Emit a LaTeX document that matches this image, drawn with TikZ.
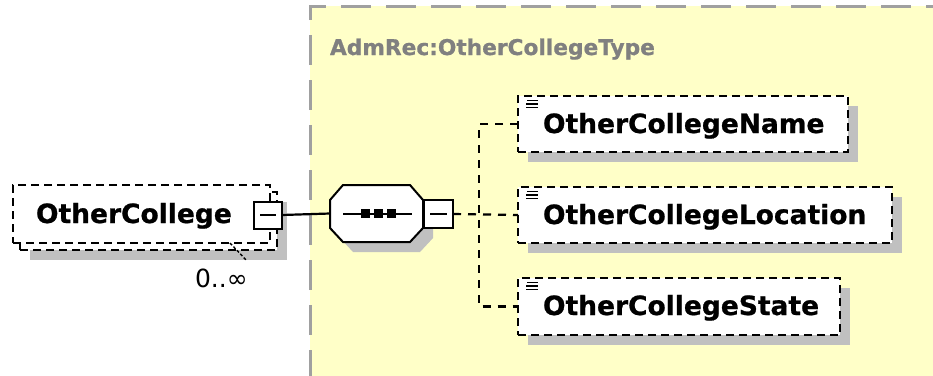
\documentclass[tikz,border=0pt]{standalone}
\usepackage{fontspec}
\setmainfont{DejaVu Sans}[BoldFeatures={FakeBold=0.8}]
\definecolor{yellowfill}{RGB}{255,255,200}
\definecolor{shadowgray}{RGB}{192,192,192}
\definecolor{bordergray}{RGB}{160,160,160}
\definecolor{titlegray}{RGB}{128,128,128}
\begin{document}
\begin{tikzpicture}[x=1pt,y=-1pt,
  every node/.style={inner sep=0pt, outer sep=0pt},
  ebox/.style={draw=black, line width=2.2pt, dash pattern=on 8pt off 5pt, fill=white},
  shadowfill/.style={fill=shadowgray, draw=none},
  conn/.style={line width=2.2pt, dash pattern=on 8pt off 7pt},
  solidconn/.style={line width=2.2pt},
  minusbox/.style={draw=black, line width=2pt, fill=white},
  lbl/.style={font=\fontsize{26.5}{30}\selectfont\bfseries, anchor=base west},
  icon/.style={line width=1.8pt}]
\useasboundingbox (0,0) rectangle (933,375);
% type area
\fill[yellowfill] (310,6) rectangle (940,380);
\draw[bordergray, line width=3pt, dash pattern=on 30pt off 15pt] (310,380) -- (310,6) -- (940,6);
\node[lbl, font=\fontsize{21.7}{26}\selectfont\bfseries, text=titlegray] (title) at (330,55) {AdmRec:OtherCollegeType};

% OtherCollege element (repeated)
\fill[shadowfill] (30,202) rectangle (287,260);
\node[ebox, minimum width=257pt, minimum height=58pt] (ocback) at (148.5,221) {};
\node[ebox, minimum width=257pt, minimum height=58pt] (oc) at (141.5,214) {};
\node[lbl] (octext) at (36,223) {OtherCollege};
\coordinate (lead1) at (230,243);
\coordinate (lead2) at (247,261);
\draw[line width=1.4pt, dash pattern=on 3pt off 2pt] (lead1) -- (lead2);
\node[font=\fontsize{25}{28}\selectfont, anchor=base west] (mult) at (195,287) {0..∞};
\node[minusbox, minimum width=28pt, minimum height=27pt] (ocm) at (268,215) {};
\draw[line width=2pt] ([xshift=6pt]ocm.west) -- ([xshift=-6pt]ocm.east);

% sequence compositor
\node[minimum width=93pt, minimum height=57pt] (seq) at (376.5,213.5) {};
\fill[shadowfill] (353,195) -- (420,195) -- (433,210) -- (433,238) -- (420,252) -- (353,252) -- (340,238) -- (340,210) -- cycle;
\draw[line width=2pt, fill=white] (343,185) -- (410,185) -- (423,200) -- (423,228) -- (410,242) -- (343,242) -- (330,228) -- (330,200) -- cycle;
\draw[line width=2pt] (343,213.5) -- (412,213.5);
\foreach \cx in {365,378,391} \fill (\cx-4.5,209) rectangle (\cx+4.5,218);
\node[minusbox, minimum width=29pt, minimum height=28pt] (sqm) at (438.5,214) {};
\draw[line width=2pt] ([xshift=6pt]sqm.west) -- ([xshift=-6pt]sqm.east);
\draw[solidconn] (ocm.east) -- (seq.west);

% children
\fill[shadowfill] (528,106) rectangle (858,162);
\fill[shadowfill] (528,197) rectangle (902,253);
\fill[shadowfill] (528,288) rectangle (850,345);
\node[ebox, minimum width=330pt, minimum height=56pt] (c1) at (683,124) {};
\node[ebox, minimum width=374pt, minimum height=56pt] (c2) at (705,215) {};
\node[ebox, minimum width=322pt, minimum height=57pt] (c3) at (679,306.5) {};
\node[lbl] (t1) at (543,133) {OtherCollegeName};
\node[lbl] (t2) at (543,224) {OtherCollegeLocation};
\node[lbl] (t3) at (543,315) {OtherCollegeState};
\foreach \n in {c1,c2,c3} {
  \draw[icon] ([xshift=9pt,yshift=-4.5pt]\n.north west) -- ++(11,0);
  \draw[icon] ([xshift=8pt,yshift=-8pt]\n.north west) -- ++(12,0);
  \draw[icon] ([xshift=8pt,yshift=-11.5pt]\n.north west) -- ++(12,0);
}

% connectors
\coordinate (br) at (479,214);
\draw[conn] (sqm.east) -- (c2.west);
\draw[conn] (c1.west) -- (c1.west -| br) -- (c3.west -| br) -- (c3.west);
\end{tikzpicture}
\end{document}
